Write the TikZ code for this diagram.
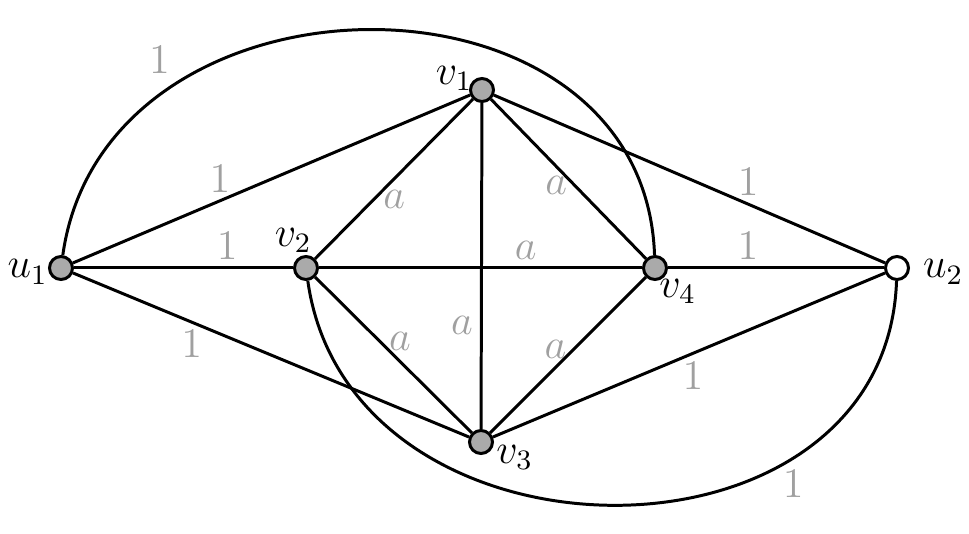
\documentclass[tikz,border=0pt]{standalone}
\usepackage{amsmath}
\usepackage{xcolor}
\usepackage{tikz}
\usetikzlibrary{positioning}

\definecolor{vfill}{RGB}{170,170,170}
\definecolor{wgray}{RGB}{160,160,160}

\begin{document}
\begin{tikzpicture}[
  vert/.style={circle, draw, line width=0.85pt, minimum size=2.3mm, inner sep=0pt, fill=vfill},
  open/.style={vert, fill=white},
  edge/.style={line width=0.85pt},
  wt/.style={text=wgray, font=\large, inner sep=2pt},
  vlabel/.style={font=\large, inner sep=1pt},
]
  \useasboundingbox (0,0) rectangle (9.69,5.34);

  % vertices
  \node[vert] (u1) at (0.61, 2.66) {};
  \node[vert] (v2) at (3.06, 2.66) {};
  \node[vert] (v1) at (4.82, 4.44) {};
  \node[vert] (v4) at (6.55, 2.66) {};
  \node[open] (u2) at (8.97, 2.66) {};
  \node[vert] (v3) at (4.81, 0.92) {};

  % vertex names
  \node[vlabel, left=-0.4mm of u1, yshift=-0.4mm] (lu1) {$u_1$};
  \node[vlabel, above left=-1.4mm and -0.4mm of v1] (lv1) {$v_1$};
  \node[vlabel, above left=0.2mm and -1.9mm of v2] (lv2) {$v_2$};
  \node[vlabel, below right=-0.2mm and -0.9mm of v4] (lv4) {$v_4$};
  \node[vlabel, right=0.9mm of u2, yshift=-0.4mm] (lu2) {$u_2$};
  \node[vlabel, below right=-1.0mm and 0.2mm of v3] (lv3) {$v_3$};

  % edges of weight 1
  \draw[edge] (u1) to[out=82, in=92, looseness=1.31]
    node[wt, pos=0.26, above left] {$\mathrm{1}$} (v4);
  \draw[edge] (u1) -- node[wt, pos=0.37, above] {$\mathrm{1}$} (v1);
  \draw[edge] (u1) -- node[wt, pos=0.70, above] {$\mathrm{1}$} (v2);
  \draw[edge] (u1) -- node[wt, pos=0.30, below] {$\mathrm{1}$} (v3);
  \draw[edge] (v1) -- node[wt, pos=0.65, above] {$\mathrm{1}$} (u2);
  \draw[edge] (v4) -- node[wt, pos=0.37, above] {$\mathrm{1}$} (u2);
  \draw[edge] (v3) -- node[wt, pos=0.51, below] {$\mathrm{1}$} (u2);
  \draw[edge] (v2) to[out=-82, in=-92, looseness=1.31]
    node[wt, pos=0.73, below, yshift=-0.4mm] {$\mathrm{1}$} (u2);

  % edges of weight a
  \draw[edge] (v1) -- node[wt, pos=0.52, below right, xshift=-1.6mm] {$a$} (v2);
  \draw[edge] (v1) -- node[wt, pos=0.43, below left, xshift=1.8mm] {$a$} (v4);
  \draw[edge] (v1) -- node[wt, pos=0.67, left, yshift=-0.4mm] {$a$} (v3);
  \draw[edge] (v2) -- node[wt, pos=0.64, above] {$a$} (v4);
  \draw[edge] (v2) -- node[wt, pos=0.50, above right, xshift=-1.3mm, yshift=-0.4mm] {$a$} (v3);
  \draw[edge] (v3) -- node[wt, pos=0.46, above left, xshift=1.3mm, yshift=-0.6mm] {$a$} (v4);
\end{tikzpicture}
\end{document}
